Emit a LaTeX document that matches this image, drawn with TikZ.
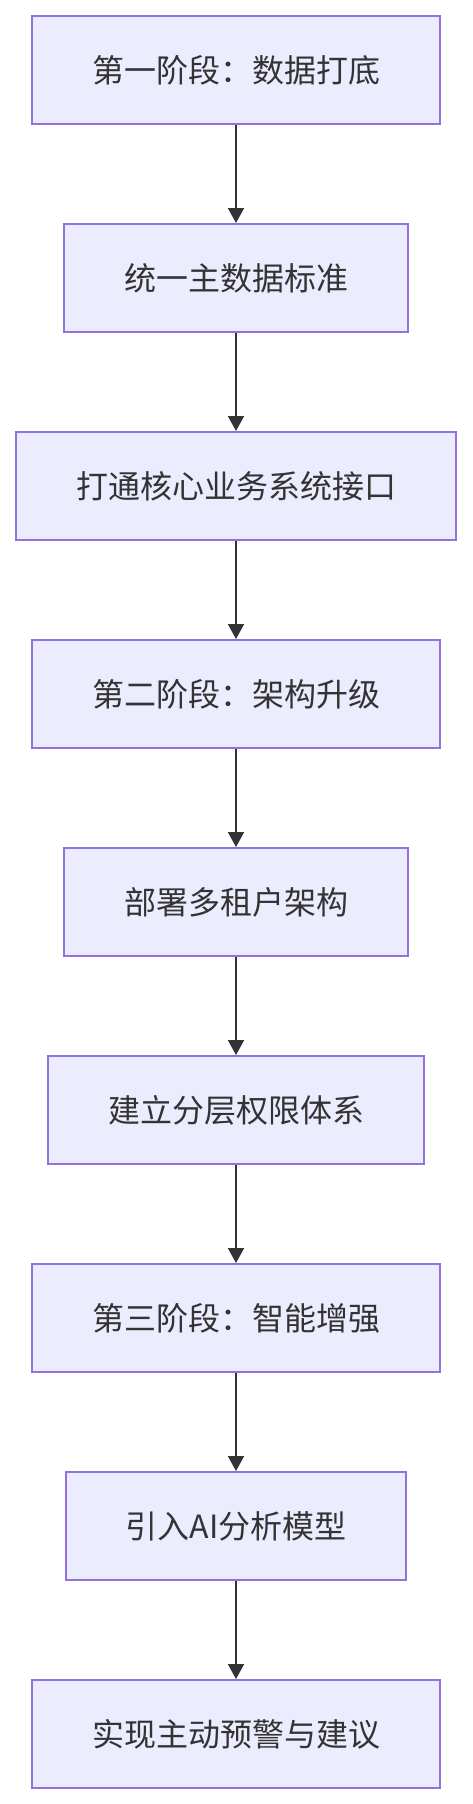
\documentclass[tikz,border=0pt]{standalone}
\usepackage{fontspec}
\setmainfont{Noto Sans CJK SC}
\usetikzlibrary{arrows.meta}
\definecolor{boxfill}{HTML}{ECECFF}
\definecolor{boxline}{HTML}{9370DB}
\definecolor{ink}{HTML}{333333}
\tikzset{
  stepbox/.style={rectangle, draw=boxline, fill=boxfill, line width=2pt,
    minimum height=108pt, inner sep=0pt, text=ink,
    font=\fontsize{32pt}{38pt}\selectfont},
  flow/.style={draw=ink, line width=2pt, -{Triangle[width=16pt,length=15pt]}}
}
\begin{document}
\begin{tikzpicture}[x=1pt,y=-1pt]
\useasboundingbox (0,0) rectangle (472,1804);
\node[stepbox, minimum width=408pt] (n1) at (236,70) {第一阶段：数据打底};
\node[stepbox, minimum width=344pt] (n2) at (236,278) {统一主数据标准};
\node[stepbox, minimum width=440pt] (n3) at (236,486) {打通核心业务系统接口};
\node[stepbox, minimum width=408pt] (n4) at (236,694) {第二阶段：架构升级};
\node[stepbox, minimum width=344pt] (n5) at (236,902) {部署多租户架构};
\node[stepbox, minimum width=376pt] (n6) at (236,1110) {建立分层权限体系};
\node[stepbox, minimum width=408pt] (n7) at (236,1318) {第三阶段：智能增强};
\node[stepbox, minimum width=340pt] (n8) at (236,1526) {引入AI分析模型};
\node[stepbox, minimum width=408pt] (n9) at (236,1734) {实现主动预警与建议};
\foreach \a/\b in {n1/n2,n2/n3,n3/n4,n4/n5,n5/n6,n6/n7,n7/n8,n8/n9}
  \draw[flow] (\a) -- (\b);
\end{tikzpicture}
\end{document}
